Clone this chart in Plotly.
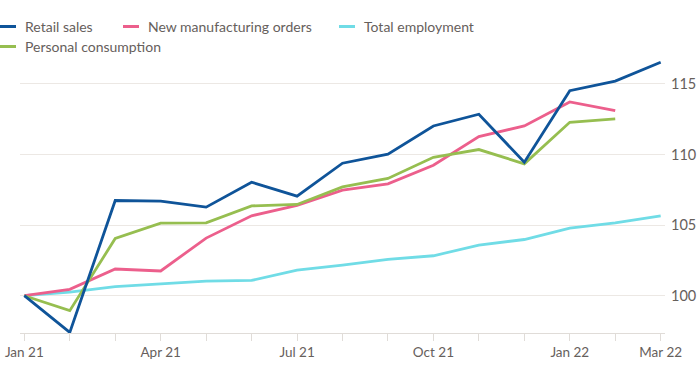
import plotly.graph_objects as go

months = ["Jan 21", "Feb 21", "Mar 21", "Apr 21", "May 21", "Jun 21", "Jul 21",
          "Aug 21", "Sep 21", "Oct 21", "Nov 21", "Dec 21", "Jan 22", "Feb 22", "Mar 22"]
tick_labels = ["Jan 21", "", "", "Apr 21", "", "", "Jul 21", "", "", "Oct 21", "", "", "Jan 22", "", "Mar 22"]

retail_sales = [100, 97.4, 106.74, 106.7, 106.27, 108.04, 107.05, 109.38, 110.02,
                112.02, 112.85, 109.45, 114.52, 115.2, 116.53]
new_manufacturing_orders = [100, 100.45, 101.89, 101.75, 104.08, 105.66, 106.39, 107.47,
                            107.92, 109.24, 111.27, 112.02, 113.72, 113.1]
total_employment = [100, 100.26, 100.64, 100.85, 101.04, 101.08, 101.81, 102.17, 102.57,
                    102.83, 103.58, 103.98, 104.79, 105.16, 105.66]
personal_consumption = [100, 98.94, 104.05, 105.14, 105.16, 106.36, 106.46, 107.71, 108.3,
                        109.8, 110.35, 109.34, 112.28, 112.52]

series = [
    ("Retail sales", retail_sales, "#0f5499"),
    ("New manufacturing orders", new_manufacturing_orders, "#ec5f8c"),
    ("Total employment", total_employment, "#70dce6"),
    ("Personal consumption", personal_consumption, "#96be50"),
]

W, H = 700, 375
ML, MR, MT, MB = 20, 35, 60, 42
pw, ph = W - ML - MR, H - MT - MB
FONT = "Lato"
GREY = "#66605c"

fig = go.Figure()
# draw order: employment, orders, consumption, retail on top
for idx in [2, 1, 3, 0]:
    name, vals, col = series[idx]
    fig.add_trace(go.Scatter(x=list(range(len(vals))), y=vals, mode="lines", name=name,
                             line=dict(color=col, width=2.8), showlegend=False,
                             hovertemplate="%{y}<extra>" + name + "</extra>"))

def px_x(p):
    return (p - ML) / pw

def px_y(p):
    return (H - MB - p) / ph

legend_items = [
    ("Retail sales", "#0f5499", 0, 26.5),
    ("New manufacturing orders", "#ec5f8c", 123, 26.5),
    ("Total employment", "#70dce6", 339, 26.5),
    ("Personal consumption", "#96be50", 0, 46.5),
]
shapes = []
annotations = []
for name, col, x0, yc in legend_items:
    shapes.append(dict(type="line", xref="paper", yref="paper",
                       x0=px_x(x0), x1=px_x(x0 + 16), y0=px_y(yc), y1=px_y(yc),
                       line=dict(color=col, width=3)))
    annotations.append(dict(xref="paper", yref="paper", x=px_x(x0 + 23), y=px_y(yc),
                            xanchor="left", yanchor="middle", text=name, showarrow=False,
                            font=dict(family=FONT, size=14, color=GREY)))

fig.update_layout(
    width=W, height=H,
    margin=dict(l=ML, r=MR, t=MT, b=MB, autoexpand=False),
    paper_bgcolor="white", plot_bgcolor="white",
    shapes=shapes, annotations=annotations,
    xaxis=dict(range=[-0.095, 14.095], tickmode="array", tickvals=list(range(15)),
               ticktext=tick_labels, showgrid=False, zeroline=False, automargin=False,
               showline=True, linecolor="#e0dcd8", linewidth=1,
               ticks="outside", ticklen=7, tickcolor="#e0dcd8", tickwidth=1,
               tickfont=dict(family=FONT, size=13.5, color=GREY)),
    yaxis=dict(range=[97.36, 116.69], side="right", tickvals=[100, 105, 110, 115],
               showgrid=True, gridcolor="#ece8e4", gridwidth=1, zeroline=False,
               ticks="", ticklabelstandoff=5, automargin=False,
               tickfont=dict(family=FONT, size=14.5, color=GREY)),
)

fig.write_html("out.html", config={"displayModeBar": False},
               post_script="document.body.style.margin='0px';document.body.style.overflow='hidden';")
